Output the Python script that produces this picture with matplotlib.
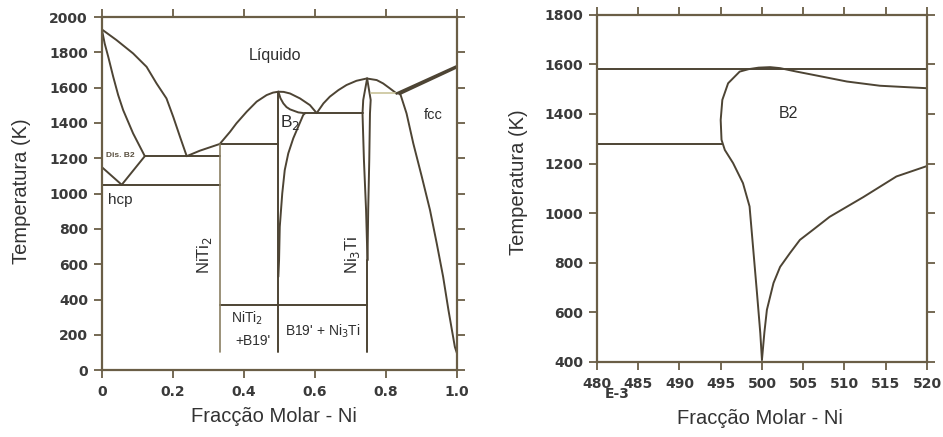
import matplotlib
matplotlib.use("Agg")
import matplotlib.pyplot as plt

# ---------------- data: left panel (full Ni-Ti diagram) ----------------
liq_ti_x = [0.0, 0.041, 0.088, 0.126, 0.154, 0.182, 0.201, 0.220, 0.239]
liq_ti_T = [1930, 1870, 1794, 1718, 1624, 1539, 1435, 1322, 1212]
sol_ti_x = [0.0, 0.008, 0.018, 0.032, 0.046, 0.060, 0.088, 0.121]
sol_ti_T = [1930, 1850, 1775, 1662, 1558, 1473, 1341, 1212]
bcc_left_x = [0.0, 0.056]
bcc_left_T = [1150, 1050]
bcc_right_x = [0.056, 0.121]
bcc_right_T = [1050, 1212]
eut1_x = [0.121, 0.333]
eut1_T = [1212, 1212]
eutd_x = [0.0, 0.333]
eutd_T = [1048, 1048]
liq_mid_x = [0.239, 0.276, 0.332, 0.361, 0.379, 0.408, 0.436, 0.464, 0.482, 0.497]
liq_mid_T = [1212, 1243, 1281, 1350, 1398, 1464, 1521, 1558, 1572, 1577]
perit_x = [0.333, 0.497]
perit_T = [1281, 1281]
nit2_x = [0.333, 0.333]
nit2_T = [1281, 100]
b2_left_x = [0.497, 0.497]
b2_left_T = [1577, 100]
liq_b2r_x = [0.497, 0.512, 0.530, 0.558, 0.586, 0.605]
liq_b2r_T = [1577, 1576, 1567, 1539, 1501, 1456]
sol_b2r_x = [0.497, 0.503, 0.511, 0.520, 0.530, 0.553, 0.572]
sol_b2r_T = [1577, 1540, 1511, 1490, 1477, 1460, 1455]
solv_b2_x = [0.572, 0.567, 0.553, 0.539, 0.525, 0.515, 0.508, 0.501, 0.499, 0.497]
solv_b2_T = [1455, 1445, 1379, 1313, 1228, 1133, 1001, 812, 623, 529]
eut2_x = [0.572, 0.735]
eut2_T = [1455, 1455]
liq_n3_x = [0.605, 0.624, 0.642, 0.666, 0.689, 0.717, 0.746, 0.774, 0.792, 0.811, 0.830]
liq_n3_T = [1456, 1511, 1549, 1586, 1615, 1639, 1652, 1643, 1624, 1596, 1567]
n3_left_x = [0.747, 0.736, 0.734, 0.738, 0.744, 0.748]
n3_left_T = [1652, 1530, 1454, 1190, 906, 623]
n3_right_x = [0.747, 0.757, 0.755, 0.753, 0.750, 0.748]
n3_right_T = [1652, 1530, 1454, 1190, 906, 623]
n3_line_x = [0.748, 0.748]
n3_line_T = [623, 100]
eut3_x = [0.757, 0.830]
eut3_T = [1567, 1567]
liq_ni_x = [0.830, 1.0]
liq_ni_T = [1567, 1722]
sol_ni_x = [0.838, 1.0]
sol_ni_T = [1564, 1716]
solv_fcc_x = [0.840, 0.858, 0.877, 0.901, 0.924, 0.943, 0.961, 0.976, 0.994, 1.0]
solv_fcc_T = [1567, 1454, 1284, 1095, 907, 718, 529, 340, 132, 95]
mart_x = [0.333, 0.748]
mart_T = [368, 368]

left_xticks = [0, 0.2, 0.4, 0.6, 0.8, 1.0]
left_xticklabels = ["0", "0.2", "0.4", "0.6", "0.8", "1.0"]
left_yticks = list(range(0, 2001, 200))

# ---------------- data: right panel (zoom around x = 0.5, units E-3) ----------------
r_liq_x = [480, 520]
r_liq_T = [1582, 1582]
r_per_x = [480, 495.1]
r_per_T = [1280, 1280]
r_b2_x = [520, 514.3, 510.3, 506.2, 504.2, 502.2, 501.0, 499.6, 498.4, 497.3, 495.9, 495.2,
          495.0, 495.1, 495.5, 496.5, 497.7, 498.5, 498.95, 499.4, 499.8, 500.0]
r_b2_T = [1504, 1514, 1531, 1558, 1571, 1585, 1589, 1587, 1581, 1571, 1524, 1457,
          1376, 1296, 1255, 1202, 1121, 1027, 852, 677, 516, 408]
r_b2low_x = [500.0, 500.3, 500.6, 501.4, 502.2, 503.4, 504.6, 506.2, 508.2, 512.3, 516.3, 520]
r_b2low_T = [408, 520, 610, 718, 783, 839, 892, 933, 985, 1065, 1148, 1190]

right_xticks = list(range(480, 521, 5))
right_yticks = list(range(400, 1801, 200))

# ---------------- styling ----------------
LC = "#4d4434"
SC = "#6a5e46"
TICKFONT = dict(family="DejaVu Sans", weight="bold", size=10)
LABFONT = "Liberation Sans"

fig = plt.figure(figsize=(9.43, 4.37), dpi=100)
fig.patch.set_facecolor("white")

ax1 = fig.add_axes([0.108, 0.153, 0.3766, 0.808])
ax2 = fig.add_axes([0.633, 0.172, 0.350, 0.794])


def style(ax):
    for s in ax.spines.values():
        s.set_color(SC)
        s.set_linewidth(1.6)
    ax.tick_params(which="both", direction="out", length=6, width=1.3, color=SC,
                   top=True, right=True, labelcolor="#3a3a3a")
    ax.tick_params(axis="y", pad=4)
    ax.tick_params(axis="x", pad=5)
    for lab in ax.get_xticklabels() + ax.get_yticklabels():
        lab.set_fontfamily(TICKFONT["family"])
        lab.set_fontweight(TICKFONT["weight"])
        lab.set_fontsize(TICKFONT["size"])


lw = 1.4


def line(ax, x, y, **kw):
    kw.setdefault("color", LC)
    kw.setdefault("lw", lw)
    ax.plot(x, y, solid_capstyle="round", solid_joinstyle="round", **kw)


# left panel
for (x, y) in [(liq_ti_x, liq_ti_T), (sol_ti_x, sol_ti_T), (bcc_left_x, bcc_left_T),
               (bcc_right_x, bcc_right_T), (eut1_x, eut1_T), (eutd_x, eutd_T),
               (liq_mid_x, liq_mid_T), (perit_x, perit_T), (b2_left_x, b2_left_T),
               (liq_b2r_x, liq_b2r_T), (sol_b2r_x, sol_b2r_T), (solv_b2_x, solv_b2_T),
               (eut2_x, eut2_T), (liq_n3_x, liq_n3_T), (n3_left_x, n3_left_T),
               (n3_right_x, n3_right_T), (n3_line_x, n3_line_T),
               (solv_fcc_x, solv_fcc_T), (mart_x, mart_T)]:
    line(ax1, x, y)
line(ax1, nit2_x, nit2_T, color="#8a7f62", lw=1.2)
line(ax1, eut3_x, eut3_T, color="#c9c49a", lw=1.2)
line(ax1, liq_ni_x, liq_ni_T, lw=1.8)
line(ax1, sol_ni_x, sol_ni_T, lw=1.8)

ax1.set_xlim(0, 1.0)
ax1.set_ylim(0, 2000)
ax1.set_xticks(left_xticks)
ax1.set_xticklabels(left_xticklabels)
ax1.set_yticks(left_yticks)
style(ax1)

tc = "#2e2e2e"
ax1.text(0.487, 1785, "Líquido", family=LABFONT, fontsize=11.5, ha="center", va="center", color=tc)
ax1.text(0.051, 1218, "Dis. B2", family=LABFONT, fontsize=6, weight="bold", ha="center", va="center", color="#5a5040")
ax1.text(0.053, 963, "hcp", family=LABFONT, fontsize=11, ha="center", va="center", color=tc)
ax1.text(0.501, 1405, "B$_2$", family=LABFONT, fontsize=12.5, ha="left", va="center", color=tc)
ax1.text(0.932, 1445, "fcc", family=LABFONT, fontsize=10.5, ha="center", va="center", color=tc)
ax1.text(0.288, 650, "NiTi$_2$", family=LABFONT, fontsize=12, rotation=90, ha="center", va="center", color=tc)
ax1.text(0.705, 655, "Ni$_3$Ti", family=LABFONT, fontsize=12, rotation=90, ha="center", va="center", color=tc)
ax1.text(0.410, 295, "NiTi$_2$", family=LABFONT, fontsize=10, ha="center", va="center", color=tc)
ax1.text(0.425, 164, "+B19'", family=LABFONT, fontsize=10, ha="center", va="center", color=tc)
ax1.text(0.623, 221, "B19' + Ni$_3$Ti", family=LABFONT, fontsize=10, ha="center", va="center", color=tc)

# right panel
line(ax2, r_liq_x, r_liq_T)
line(ax2, r_per_x, r_per_T)
line(ax2, r_b2_x, r_b2_T)
line(ax2, r_b2low_x, r_b2low_T)
ax2.set_xlim(480, 520)
ax2.set_ylim(400, 1800)
ax2.set_xticks(right_xticks)
ax2.set_yticks(right_yticks)
style(ax2)
ax2.text(503.2, 1401, "B2", family=LABFONT, fontsize=11.5, ha="center", va="center", color=tc)
fig.text(617/943, 1 - 394/437, "E-3", fontdict=TICKFONT, color="#3a3a3a", ha="center", va="center")

# axis labels
fig.text(22/943, 1 - 191/437, "Temperatura (K)", family=LABFONT, fontsize=14.5, rotation=90,
         ha="center", va="center", color="#333333")
fig.text(518/943, 1 - 182/437, "Temperatura (K)", family=LABFONT, fontsize=14.5, rotation=90,
         ha="center", va="center", color="#333333")
fig.text(274/943, 1 - 416/437, "Fracção Molar - Ni", family=LABFONT, fontsize=14.5,
         ha="center", va="center", color="#333333")
fig.text(760/943, 1 - 418/437, "Fracção Molar - Ni", family=LABFONT, fontsize=14.5,
         ha="center", va="center", color="#333333")

fig.savefig("out.png", dpi=100, facecolor="white")
